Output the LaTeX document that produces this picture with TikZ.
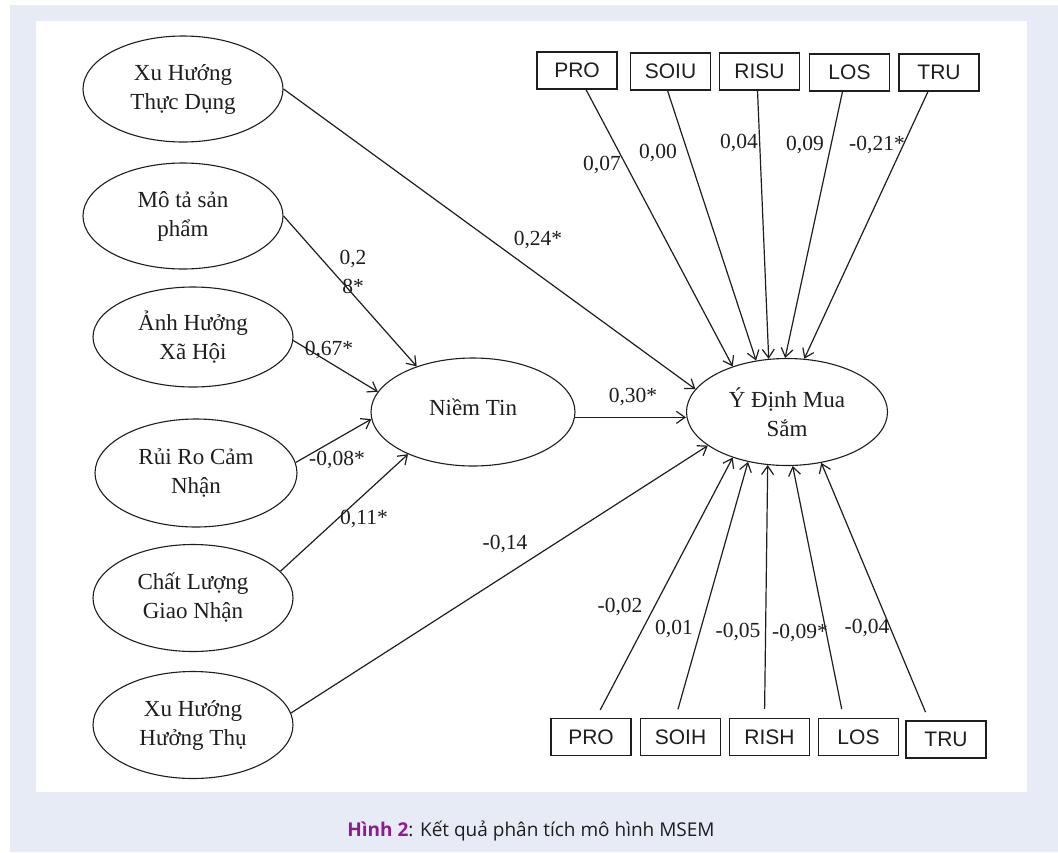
\documentclass[tikz,border=0pt]{standalone}
\usepackage{fontspec}
\setmainfont{Liberation Serif}
\newfontfamily\boxfont{Liberation Sans}
\newfontfamily\capfont{Open Sans}
\usetikzlibrary{shapes.geometric,arrows.meta}
\definecolor{bgblue}{HTML}{E6EBF5}
\definecolor{capPurple}{HTML}{8E1B8E}
\definecolor{ink}{HTML}{1E1E1E}
\begin{document}
\begin{tikzpicture}[x=1pt,y=-1pt,
  lat/.style={ellipse, draw=ink, text=ink, line width=1.1pt, inner sep=0pt, align=center,
    font=\fontsize{23}{29}\selectfont},
  obs/.style={draw=ink, text=ink, line width=1.1pt, minimum width=80pt, minimum height=37pt,
    inner sep=0pt, font=\boxfont\fontsize{21}{24}\selectfont},
  arr/.style={draw=ink, line width=1.2pt, -{Straight Barb[length=8.5pt,width=12pt,line width=1.2pt]}},
  coef/.style={text=ink, inner sep=0pt, align=center, font=\fontsize{21.5}{29}\selectfont}]
\useasboundingbox (0,0) rectangle (1058,852);
\fill[white] (0,0) rectangle (1058,852);
\fill[bgblue] (10,5) rectangle (1058,852);
\fill[white] (36,21) rectangle (1027,792);

% latent variables
\node[lat, minimum width=200pt, minimum height=106pt] (xhtd) at (183,89) {Xu Hướng\\Thực Dụng};
\node[lat, minimum width=200pt, minimum height=106pt] (mota) at (183,216) {Mô tả sản\\phẩm};
\node[lat, minimum width=200pt, minimum height=100pt] (ahxh) at (193,337) {Ảnh Hưởng\\Xã Hội};
\node[lat, minimum width=202pt, minimum height=108pt] (rrcn) at (196,473) {Rủi Ro Cảm\\Nhận};
\node[lat, minimum width=200pt, minimum height=107pt] (clgn) at (193,598) {Chất Lượng\\Giao Nhận};
\node[lat, minimum width=200pt, minimum height=107pt] (xhht) at (193,725) {Xu Hướng\\Hưởng Thụ};
\node[lat, minimum width=204pt, minimum height=108pt] (nt) at (473,412) {\raisebox{9pt}{Niềm Tin}};
\node[lat, minimum width=201pt, minimum height=107pt] (ydm) at (787,412) {Ý Định Mua\\Sắm};

% observed (top)
\node[obs] (pro1) at (577,70.5) {PRO};
\node[obs] (soiu) at (670.5,71.5) {SOIU};
\node[obs] (risu) at (759.5,71.5) {RISU};
\node[obs] (los1) at (849.5,72.5) {LOS};
\node[obs] (tru1) at (939,72.5) {TRU};
% observed (bottom)
\node[obs] (pro2) at (591,737) {PRO};
\node[obs] (soih) at (680.5,737) {SOIH};
\node[obs] (rish) at (769.5,737) {RISH};
\node[obs] (los2) at (858.5,737) {LOS};
\node[obs] (tru2) at (946,739.5) {TRU};

% structural paths
\draw[arr] (xhtd.east) -- (ydm.166);
\draw[arr] (mota.east) -- (nt.141.3);
\draw[arr] (ahxh.-2) -- (nt.168.5);
\draw[arr] (rrcn.6.5) -- (nt.184.6);
\draw[arr] (clgn.17) -- (nt.213.5);
\draw[arr] (xhht.7.5) -- (ydm.203.9);
\draw[arr] (nt.-3.4) -- (nt.-3.4 -| ydm.west);

% top paths
\draw[arr] ([xshift=9pt]pro1.south) -- (ydm.140.8);
\draw[arr] ([xshift=-3pt]soiu.south) -- (ydm.121);
\draw[arr] ([xshift=-2pt]risu.south) -- (ydm.109.1);
\draw[arr] ([xshift=-7pt]los1.south) -- (ydm.92.2);
\draw[arr] ([xshift=-11pt]tru1.south) -- (ydm.72.3);
% bottom paths
\draw[arr, shorten <=9pt] ([xshift=5pt]pro2.north) -- (ydm.220.2);
\draw[arr, shorten <=9pt] ([xshift=-5pt]soih.north) -- (ydm.232.8);
\draw[arr, shorten <=9pt] ([xshift=-5pt]rish.north) -- (ydm.250.2);
\draw[arr, shorten <=9pt] ([xshift=-15pt]los2.north) -- (ydm.276.8);
\draw[arr, shorten <=9pt] ([xshift=-17pt]tru2.north) -- (ydm.304);

% coefficients
\node[coef] (c1) at (538,240) {0,24*};
\node[coef] (c2) at (353,272) {0,2\\8*};
\node[coef] (c3) at (329,350) {0,67*};
\node[coef] (c4) at (337,460) {-0,08*};
\node[coef] (c5) at (364,519) {0,11*};
\node[coef] (c6) at (505,544) {-0,14};
\node[coef] (c7) at (633,397) {0,30*};
\node[coef] (t1) at (602,165) {0,07};
\node[coef] (t2) at (658,153) {0,00};
\node[coef] (t3) at (739,143) {0,04};
\node[coef] (t4) at (805,145) {0,09};
\node[coef] (t5) at (877,145) {-0,21*};
\node[coef] (b1) at (620,607) {-0,02};
\node[coef] (b2) at (674,629) {0,01};
\node[coef] (b3) at (738,632) {-0,05};
\node[coef] (b4) at (800,633) {-0,09*};
\node[coef] (b5) at (867,628) {-0,04};

% caption
\node[anchor=base, inner sep=0pt, text=ink, font=\capfont\fontsize{19}{22}\selectfont] (cap) at (531,836)
  {\textcolor{capPurple}{\bfseries Hình 2}: Kết quả phân tích mô hình MSEM};
\end{tikzpicture}
\end{document}
